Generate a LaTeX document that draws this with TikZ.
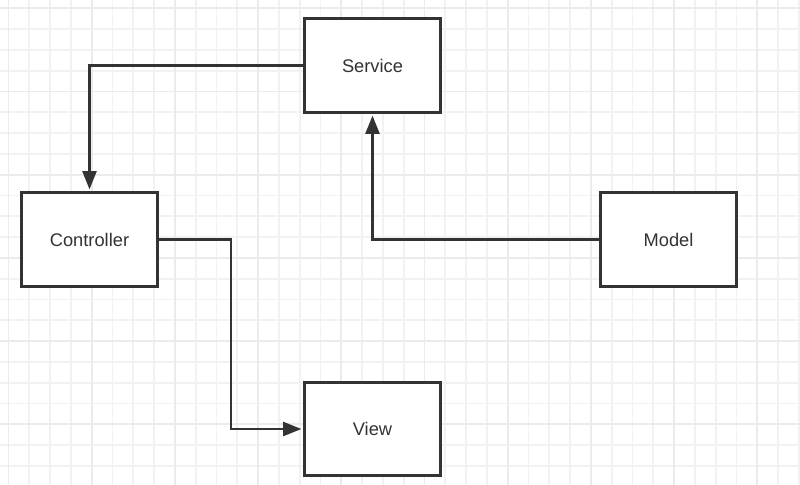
\documentclass[tikz,border=0pt]{standalone}
\usepackage{fontspec}
\setmainfont{Liberation Sans}
\usepackage{xcolor}
\usepackage{tikz}
\usetikzlibrary{positioning,calc,arrows.meta}
\definecolor{ink}{HTML}{333333}
\definecolor{minorgrid}{HTML}{F2F2F2}
\definecolor{majorgrid}{HTML}{EBEBEB}
\tikzset{
  basic/.style  = {draw=ink, line width=2pt, fill=white, rectangle,
                   minimum width=3.38cm, minimum height=2.33cm,
                   font=\fontsize{13}{15}\selectfont, text=ink},
  layer/.style  = {basic},
  edge/.style   = {-{Triangle[length=13pt,width=10pt]}, draw=ink,
                   line width=1.6pt, shorten >=1.5pt},
  minor/.style  = {draw=minorgrid, line width=1.2pt},
  major/.style  = {draw=majorgrid, line width=1.2pt}
}

\begin{document}
\begin{tikzpicture}[x=0.025cm, y=-0.025cm]
      \useasboundingbox (0,0) rectangle (800,485);
      % background grid
      \foreach \i in {0,...,38} {
        \draw[minor] ({8.5+20.8*\i},0) -- ({8.5+20.8*\i},485);
      }
      \foreach \j in {0,...,23} {
        \draw[minor] (0,{8.3+20.8*\j}) -- (800,{8.3+20.8*\j});
      }
      \foreach \i in {0,...,9} {
        \draw[major] ({8.5+83.2*\i},0) -- ({8.5+83.2*\i},485);
      }
      \foreach \j in {0,...,5} {
        \draw[major] (0,{8.3+83.2*\j}) -- (800,{8.3+83.2*\j});
      }
      % boxes
      \node[layer] (ser)  at (372.5,65.5)  {Service};
      \node[layer] (con)  at (89.5,239.5)  {Controller};
      \node[layer] (mod)  at (668.5,239.5) {Model};
      \node[layer] (view) at (372.5,429)   {View};
      % connectors
      \draw[edge] (ser.west) -| (con.north);
      \draw[edge] (mod.west) -| (ser.south);
      \draw[edge] (con.east) -| ($(con.east)!.5!(view.west)$) |- (view.west);
\end{tikzpicture}
\end{document}
